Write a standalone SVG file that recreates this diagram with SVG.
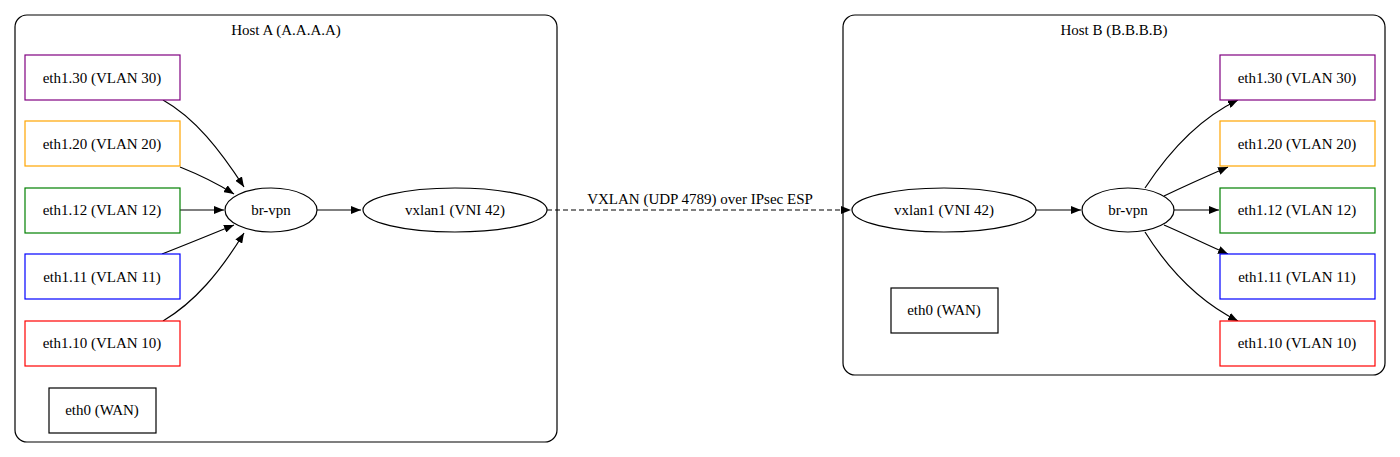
<svg xmlns="http://www.w3.org/2000/svg" width="1400" height="457" viewBox="0 0 1400 457">
<defs>
<marker id="ah" markerWidth="10" markerHeight="8" refX="10" refY="4" orient="auto" markerUnits="userSpaceOnUse"><path d="M0,0 L10,4 L0,8 Z" fill="#000"/></marker>
<style>
text{font-family:"Liberation Serif","Times New Roman",serif;font-size:15px;fill:#000;text-anchor:middle;dominant-baseline:central}
.cl{fill:none;stroke:#000;stroke-width:1.2}
.n{fill:#fff;stroke-width:1.2}
.e{fill:none;stroke:#000;stroke-width:1.2;marker-end:url(#ah)}
</style>
</defs>
<rect width="1400" height="457" fill="#fff"/>
<g id="hostA"><rect class="cl" x="15" y="15" width="542" height="427" rx="12"/><text x="286" y="30">Host A (A.A.A.A)</text></g>
<g id="hostB"><rect class="cl" x="843" y="15" width="542" height="360" rx="12"/><text x="1114" y="30">Host B (B.B.B.B)</text></g>
<g id="connectors">
<path class="e" d="M163,100 C195,118 220,150 244,187"/>
<path class="e" d="M180,167 C200,175 215,182 234,194"/>
<path class="e" d="M180,210 L224,210"/>
<path class="e" d="M162,254 C190,243 212,234 234,225"/>
<path class="e" d="M163,321 C195,302 220,272 244,233"/>
<path class="e" d="M317,210 L361,210"/>
<path class="e" d="M547,210 L851,210" stroke-dasharray="5,3"/>
<text x="700" y="199">VXLAN (UDP 4789) over IPsec ESP</text>
<path class="e" d="M1036,210 L1081,210"/>
<path class="e" d="M1145,188 C1170,150 1200,118 1238,100"/>
<path class="e" d="M1164,196 C1185,186 1205,177 1228,167"/>
<path class="e" d="M1174,210 L1219,210"/>
<path class="e" d="M1164,225 C1185,234 1205,244 1228,254"/>
<path class="e" d="M1145,232 C1170,272 1200,302 1238,321"/>
</g>
<g id="a30"><rect class="n" stroke="#800080" x="25" y="55" width="155" height="45"/><text x="102" y="78">eth1.30 (VLAN 30)</text></g>
<g id="a20"><rect class="n" stroke="#ffa500" x="25" y="121" width="155" height="45"/><text x="102" y="144">eth1.20 (VLAN 20)</text></g>
<g id="a12"><rect class="n" stroke="#008000" x="25" y="188" width="155" height="45"/><text x="102" y="210">eth1.12 (VLAN 12)</text></g>
<g id="a11"><rect class="n" stroke="#0000ff" x="25" y="254" width="155" height="45"/><text x="102" y="277">eth1.11 (VLAN 11)</text></g>
<g id="a10"><rect class="n" stroke="#ff0000" x="25" y="321" width="155" height="45"/><text x="102" y="343">eth1.10 (VLAN 10)</text></g>
<g id="a0"><rect class="n" stroke="#000" x="49" y="388" width="107" height="45"/><text x="102" y="410">eth0 (WAN)</text></g>
<g id="abr"><ellipse class="n" stroke="#000" cx="271" cy="210" rx="46" ry="22"/><text x="271" y="210">br-vpn</text></g>
<g id="avx"><ellipse class="n" stroke="#000" cx="455" cy="210" rx="92" ry="22"/><text x="455" y="210">vxlan1 (VNI 42)</text></g>
<g id="bvx"><ellipse class="n" stroke="#000" cx="944" cy="210" rx="92" ry="22"/><text x="944" y="210">vxlan1 (VNI 42)</text></g>
<g id="bbr"><ellipse class="n" stroke="#000" cx="1128" cy="210" rx="46" ry="22"/><text x="1128" y="210">br-vpn</text></g>
<g id="b30"><rect class="n" stroke="#800080" x="1220" y="55" width="155" height="45"/><text x="1297" y="78">eth1.30 (VLAN 30)</text></g>
<g id="b20"><rect class="n" stroke="#ffa500" x="1220" y="121" width="155" height="45"/><text x="1297" y="144">eth1.20 (VLAN 20)</text></g>
<g id="b12"><rect class="n" stroke="#008000" x="1220" y="188" width="155" height="45"/><text x="1297" y="210">eth1.12 (VLAN 12)</text></g>
<g id="b11"><rect class="n" stroke="#0000ff" x="1220" y="254" width="155" height="45"/><text x="1297" y="277">eth1.11 (VLAN 11)</text></g>
<g id="b10"><rect class="n" stroke="#ff0000" x="1220" y="321" width="155" height="45"/><text x="1297" y="343">eth1.10 (VLAN 10)</text></g>
<g id="b0"><rect class="n" stroke="#000" x="891" y="288" width="107" height="45"/><text x="944" y="310">eth0 (WAN)</text></g>
</svg>
